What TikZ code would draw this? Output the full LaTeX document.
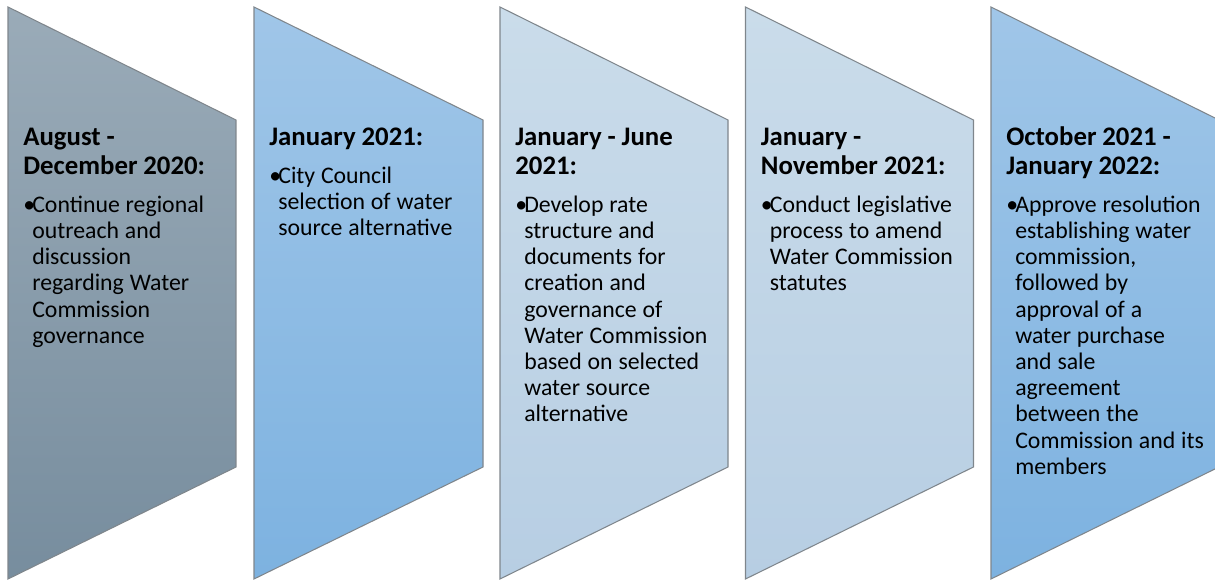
\documentclass[tikz,border=0pt]{standalone}
\usepackage{fontspec}
\setmainfont{Carlito}
\definecolor{SlateTop}{HTML}{9AABB8}
\definecolor{SlateBottom}{HTML}{778D9E}
\definecolor{SkyTop}{HTML}{A0C6E8}
\definecolor{SkyBottom}{HTML}{7DB2E0}
\definecolor{MistTop}{HTML}{CADCEA}
\definecolor{MistBottom}{HTML}{B7CEE3}
\definecolor{EdgeGray}{HTML}{7F868C}
\newcommand{\stagehead}{\bfseries\fontsize{15.25pt}{16.67pt}\selectfont\noindent\rule{0pt}{12pt}}
\newcommand{\stagebody}{\par\mdseries\fontsize{13.54pt}{14.91pt}\selectfont\vspace{6.71pt}}
\newcommand{\stagebullet}{\hangindent=5.1pt\hangafter=1\noindent\makebox[5.1pt][l]{\textbullet}}

\begin{document}
\begin{tikzpicture}[x=0.02cm, y=-0.02cm,
  stage/.style={draw=EdgeGray, line width=0.6pt},
  lbl/.style={anchor=north west, inner sep=0pt, text width=4.2cm, align=left}
]
\clip (0,0) rectangle (1215,580);
% phase shapes
\draw[stage, top color=SlateTop, bottom color=SlateBottom] (8,7) -- (236,120) -- (236,467) -- (8,579) -- cycle;
\draw[stage, top color=SkyTop, bottom color=SkyBottom] (254,7) -- (483,120) -- (483,467) -- (254,579) -- cycle;
\draw[stage, top color=MistTop, bottom color=MistBottom] (500,7) -- (728,120) -- (728,467) -- (500,579) -- cycle;
\draw[stage, top color=MistTop, bottom color=MistBottom] (745.5,7) -- (973.5,120) -- (973.5,467) -- (745.5,579) -- cycle;
\draw[stage, top color=SkyTop, bottom color=SkyBottom] (991,7) -- (1219,120) -- (1219,467) -- (991,579) -- cycle;
% phase texts
\node[lbl] (p1) at (23,123.6) {\stagehead August -\newline December 2020:\stagebody
  \stagebullet Continue regional\newline outreach and\newline discussion\newline regarding Water\newline Commission\newline governance\par};
\node[lbl] (p2) at (269,123.6) {\stagehead January 2021:\stagebody
  \stagebullet City Council\newline selection of water\newline source alternative\par};
\node[lbl] (p3) at (515,123.6) {\stagehead January - June\newline 2021:\stagebody
  \stagebullet Develop rate\newline structure and\newline documents for\newline creation and\newline governance of\newline Water Commission\newline based on selected\newline water source\newline alternative\par};
\node[lbl] (p4) at (760.5,123.6) {\stagehead January -\newline November 2021:\stagebody
  \stagebullet Conduct legislative\newline process to amend\newline Water Commission\newline statutes\par};
\node[lbl] (p5) at (1006,123.6) {\stagehead October 2021 -\newline January 2022:\stagebody
  \stagebullet Approve resolution\newline establishing water\newline commission,\newline followed by\newline approval of a\newline water purchase\newline and sale\newline agreement\newline between the\newline Commission and its\newline members\par};
\end{tikzpicture}
\end{document}
